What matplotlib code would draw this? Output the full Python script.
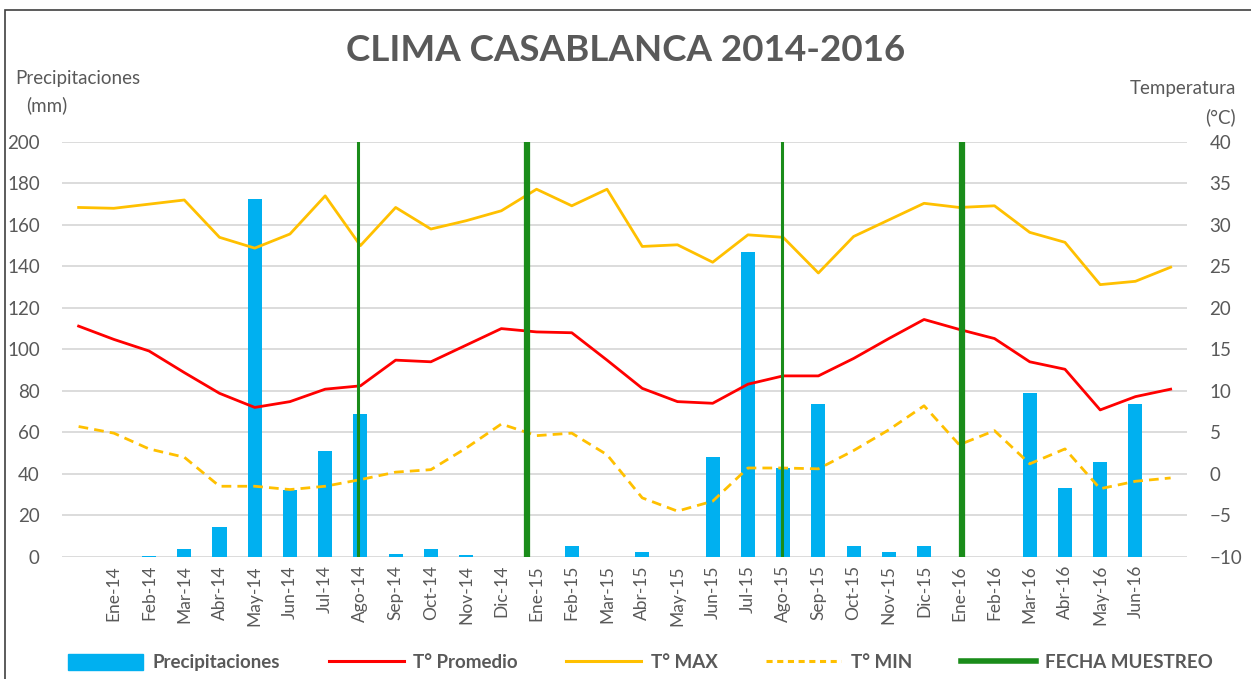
import numpy as np
import matplotlib.pyplot as plt
import matplotlib.patches as mpatches
from matplotlib.lines import Line2D

plt.rcParams['font.family'] = ['Lato', 'DejaVu Sans']

# month labels for the bars (Ene-14 .. Jun-16)
meses = ["Ene-14", "Feb-14", "Mar-14", "Abr-14", "May-14", "Jun-14", "Jul-14", "Ago-14",
         "Sep-14", "Oct-14", "Nov-14", "Dic-14", "Ene-15", "Feb-15", "Mar-15", "Abr-15",
         "May-15", "Jun-15", "Jul-15", "Ago-15", "Sep-15", "Oct-15", "Nov-15", "Dic-15",
         "Ene-16", "Feb-16", "Mar-16", "Abr-16", "May-16", "Jun-16"]

precip = [0, 0.2, 3.7, 14.3, 172.5, 32.3, 51, 69, 1.3, 3.7, 0.8, 0, 0, 5, 0, 2.4,
          0, 48.2, 147, 42.7, 73.6, 5, 2.4, 5, 0, 0, 78.9, 33, 45.6, 73.6]

# temperature series run from Dic-13 to Jul-16 (one month more on each side)
t_prom = [17.8, 16.2, 14.8, 12.2, 9.7, 8.0, 8.7, 10.2, 10.6, 13.7, 13.5, 15.5, 17.5, 17.1,
          17.0, 13.7, 10.3, 8.7, 8.5, 10.8, 11.8, 11.8, 13.9, 16.3, 18.6, 17.4, 16.3, 13.5,
          12.6, 7.7, 9.3, 10.2]
t_max = [32.1, 32.0, 32.5, 33.0, 28.5, 27.2, 28.9, 33.5, 27.5, 32.1, 29.5, 30.5, 31.7, 34.3,
         32.3, 34.3, 27.4, 27.6, 25.5, 28.8, 28.5, 24.2, 28.6, 30.6, 32.6, 32.1, 32.3, 29.1,
         27.9, 22.8, 23.2, 24.9]
t_min = [5.7, 4.9, 3.0, 2.0, -1.5, -1.5, -1.9, -1.5, -0.7, 0.2, 0.5, 3.1, 6.0, 4.6,
         4.9, 2.3, -2.9, -4.5, -3.3, 0.7, 0.7, 0.6, 2.8, 5.3, 8.2, 3.5, 5.2, 1.2,
         3.0, -1.8, -0.9, -0.5]

# sampling dates as month index (0 = Ene-14)
muestreo = [6.93, 11.73, 18.98, 24.09]
muestreo_grueso = [False, True, False, True]

gris = "#595959"
azul = "#00B0F0"
rojo = "#FF0000"
amarillo = "#FFC000"
verde = "#1A8C1A"

fig = plt.figure(figsize=(12.51, 6.79), dpi=100)
ax = fig.add_axes([0.0496, 0.180, 0.8994, 0.611])
ax2 = ax.twinx()

xb = np.arange(len(meses))
xl = np.arange(-1, len(t_prom) - 1)

ax.bar(xb, precip, width=0.4, color=azul, zorder=2)
ax.set_ylim(0, 200)
ax.set_yticks(np.arange(0, 201, 20))
ax.set_xlim(-1.47, len(meses) + 0.47)
ax.set_xticks(xb)
ax.set_xticklabels(meses, rotation=90, fontsize=12.5, color=gris)
ax.grid(axis='y', color="#D9D9D9", lw=1.3, zorder=0)
ax.set_axisbelow(True)

ax2.plot(xl, t_prom, color=rojo, lw=2.0, zorder=3)
ax2.plot(xl, t_max, color=amarillo, lw=2.0, zorder=3)
ax2.plot(xl, t_min, color=amarillo, lw=2.0, ls=(0, (3.5, 2.2)), zorder=3)
for pos, grueso in zip(muestreo, muestreo_grueso):
    ax2.axvline(pos, color=verde, lw=4.5 if grueso else 2.2, zorder=4)
ax2.set_ylim(-10, 40)
ax2.set_yticks(np.arange(-10, 41, 5))

for a in (ax, ax2):
    for s in a.spines.values():
        s.set_visible(False)
    a.tick_params(length=0, labelsize=13.5, colors=gris)
ax.tick_params(axis='y', pad=16)
ax2.tick_params(axis='y', pad=16)
ax.tick_params(axis='x', pad=6, labelsize=12.5)

fig.text(0.5, 0.925, "CLIMA CASABLANCA 2014-2016", ha='center', va='center',
         fontsize=26.5, fontweight='bold', color=gris)
fig.text(0.012, 0.884, "Precipitaciones", ha='left', va='center', fontsize=13.5, color=gris)
fig.text(0.021, 0.845, "(mm)", ha='left', va='center', fontsize=13.5, color=gris)
fig.text(0.988, 0.870, "Temperatura", ha='right', va='center', fontsize=13.5, color=gris)
fig.text(0.988, 0.828, "(°C)", ha='right', va='center', fontsize=13.5, color=gris)

handles = [mpatches.Patch(color=azul, label="Precipitaciones"),
           Line2D([], [], color=rojo, lw=2.2, label="T° Promedio"),
           Line2D([], [], color=amarillo, lw=2.2, label="T° MAX"),
           Line2D([], [], color=amarillo, lw=2.2, ls=(0, (2, 1.5)), label="T° MIN"),
           Line2D([], [], color=verde, lw=4, label="FECHA MUESTREO")]
leg = fig.legend(handles=handles, loc='center', bbox_to_anchor=(0.512, 0.024), ncol=5,
                 frameon=False, fontsize=13.5, handlelength=4.0, handletextpad=0.5,
                 columnspacing=2.6, handleheight=0.9)
for t in leg.get_texts():
    t.set_color(gris)
    t.set_fontweight('bold')

fig.add_artist(mpatches.Rectangle((0.004, -0.01), 1.2, 0.995, transform=fig.transFigure,
                                  fill=False, ec="#404040", lw=1.2))

fig.savefig("out.png", dpi=100)
